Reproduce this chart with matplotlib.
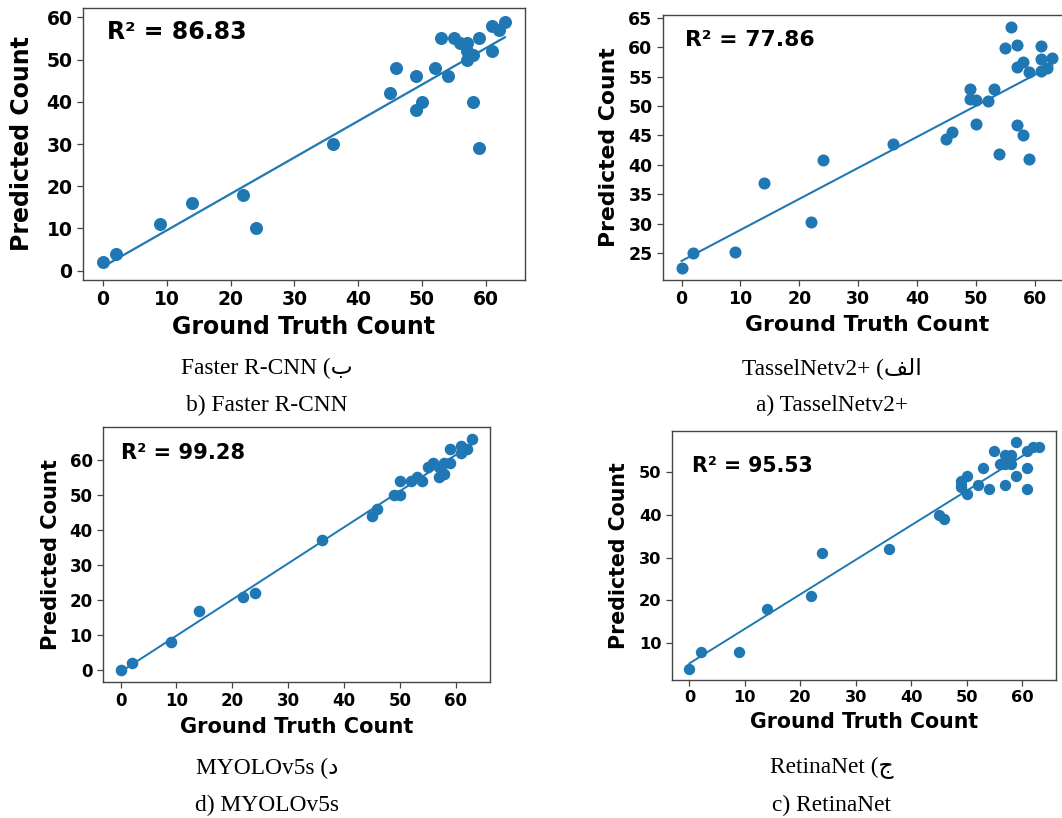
import matplotlib.pyplot as plt
from matplotlib.ticker import MultipleLocator
import numpy as np

# b) Faster R-CNN
gt_frcnn = [0, 2, 9, 14, 22, 24, 36, 45, 46, 49, 49, 50, 52, 53, 54, 55, 56, 57, 57, 57,
            58, 58, 59, 59, 61, 61, 62, 63]
pred_frcnn = [2, 4, 11, 16, 18, 10, 30, 42, 48, 46, 38, 40, 48, 55, 46, 55, 54, 54, 52, 50,
              51, 40, 55, 29, 52, 58, 57, 59]
r2_frcnn = 86.83

# a) TasselNetv2+
gt_tassel = [0, 2, 9, 14, 22, 24, 36, 45, 46, 49, 49, 50, 50, 52, 53, 54, 55, 56, 57, 57,
             57, 58, 58, 59, 59, 61, 61, 61, 62, 63]
pred_tassel = [22.5, 25.0, 25.2, 37.0, 30.3, 40.8, 43.6, 44.4, 45.6, 52.8, 51.2, 51.0, 47.0, 50.8,
               52.8, 41.9, 59.8, 63.4, 60.4, 56.7, 46.8, 57.5, 45.0, 55.7, 41.0, 60.2, 58.0, 55.9,
               56.5, 58.2]
r2_tassel = 77.86

# d) MYOLOv5s
gt_myolo = [0, 2, 9, 14, 22, 24, 36, 45, 46, 49, 50, 50, 52, 53, 54, 55, 56, 57, 57, 58,
            58, 59, 59, 61, 61, 62, 63]
pred_myolo = [0, 2, 8, 17, 21, 22, 37, 44, 46, 50, 50, 54, 54, 55, 54, 58, 59, 55, 58, 56,
              59, 63, 59, 64, 62, 63, 66]
r2_myolo = 99.28

# c) RetinaNet
gt_retina = [0, 2, 9, 14, 22, 24, 36, 45, 46, 49, 49, 49, 50, 50, 52, 53, 54, 55, 56, 57,
             57, 57, 58, 58, 59, 59, 61, 61, 61, 62, 63]
pred_retina = [4, 8, 8, 18, 21, 31, 32, 40, 39, 48, 47, 46.5, 49, 45, 47, 51, 46, 55, 52, 54,
               52, 47, 54, 52, 57, 49, 55, 51, 46, 56, 56]
r2_retina = 95.53

# persian captions, arabic letters given in visual (left-to-right) order
captions = {
    'frcnn': ['Faster R-CNN (\u0628', 'b) Faster R-CNN'],
    'tassel': ['TasselNetv2+ (\ufed2\ufedf\ufe8d', 'a) TasselNetv2+'],
    'myolo': ['MYOLOv5s (\u062f', 'd) MYOLOv5s'],
    'retina': ['RetinaNet (\u062c', 'c) RetinaNet'],
}

W, H = 1062, 818
fig = plt.figure(figsize=(W / 100, H / 100), dpi=100)
blue = '#1f77b4'


def px_axes(l, t, r, b):
    return fig.add_axes([l / W, 1 - b / H, (r - l) / W, (b - t) / H])


def panel(ax, gt, pred, r2, k, ylim, ystep, r2_xy, xpad, ypad):
    gt = np.array(gt, dtype=float)
    pred = np.array(pred, dtype=float)
    ax.scatter(gt, pred, s=88 * k * k, color=blue, zorder=3, linewidths=0)
    m, c = np.polyfit(gt, pred, 1)
    xs = np.array([gt.min(), gt.max()])
    ax.plot(xs, m * xs + c, color=blue, lw=1.6 * k, zorder=2)
    ax.text(r2_xy[0], r2_xy[1], 'R\u00b2 = %.2f' % r2, transform=ax.transAxes,
            fontsize=17 * k, fontweight='bold', va='center', ha='left')
    ax.set_xlim(-3.15, 66.15)
    ax.set_ylim(*ylim)
    ax.xaxis.set_major_locator(MultipleLocator(10))
    ax.yaxis.set_major_locator(MultipleLocator(ystep))
    ax.set_xlabel('Ground Truth Count', fontsize=17 * k, fontweight='bold', labelpad=xpad)
    ax.set_ylabel('Predicted Count', fontsize=17 * k, fontweight='bold', labelpad=ypad)
    ax.tick_params(labelsize=13.5 * k, length=4, width=0.9, color='#444444')
    for lab in ax.get_xticklabels() + ax.get_yticklabels():
        lab.set_fontweight('bold')
    for sp in ax.spines.values():
        sp.set_color('#444444')
        sp.set_linewidth(1.0)


ax_b = px_axes(83, 8, 525, 280)
panel(ax_b, gt_frcnn, pred_frcnn, r2_frcnn, 1.0, (-2.2, 62.2), 10, (0.054, 0.912), 4, 9)

ax_a = px_axes(663, 15, 1071, 280)
panel(ax_a, gt_tassel, pred_tassel, r2_tassel, 0.925, (20.45, 65.45), 5, (0.054, 0.906), 5, 7)

ax_d = px_axes(103, 427, 490, 682)
panel(ax_d, gt_myolo, pred_myolo, r2_myolo, 0.89, (-3.3, 69.3), 10, (0.047, 0.898), 5, 6)

ax_c = px_axes(672, 431, 1056, 680)
panel(ax_c, gt_retina, pred_retina, r2_retina, 0.87, (1.35, 59.65), 10, (0.052, 0.859), 5, 7)

cap_font = ['Liberation Serif', 'DejaVu Sans']
cap_pos = {'frcnn': (267, 368, 405), 'tassel': (832, 368, 405),
           'myolo': (267, 768, 805), 'retina': (832, 768, 805)}
for key, (cx, y1, y2) in cap_pos.items():
    fig.text(cx / W, 1 - y1 / H, captions[key][0], family=cap_font, fontsize=16.8,
             ha='center', va='center')
    fig.text(cx / W, 1 - y2 / H, captions[key][1], family=cap_font, fontsize=16.8,
             ha='center', va='center')

fig.savefig('out.png', dpi=100)
